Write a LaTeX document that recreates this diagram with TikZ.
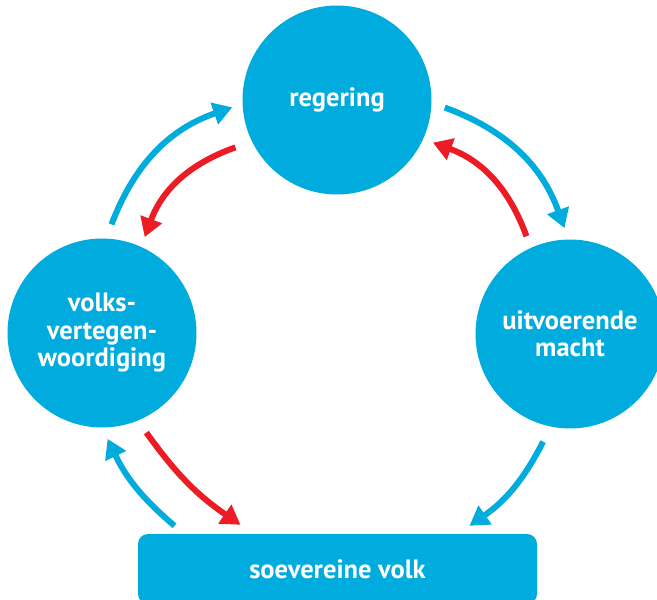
\documentclass[tikz,border=0pt]{standalone}
\usepackage{fontspec}
\setmainfont{PT Sans}
\usepackage{tikz}
\usetikzlibrary{arrows.meta, calc}
\definecolor{volkblue}{HTML}{00ABDE}
\definecolor{volkred}{HTML}{ED1C24}

\begin{document}
\begin{tikzpicture}[
  x=1pt, y=1pt,
  organ/.style={circle, fill=volkblue, minimum size=189pt, inner sep=0pt, outer sep=0pt,
                align=center, text=white, font=\bfseries\fontsize{26.5}{27.5}\selectfont},
  basis/.style={rectangle, rounded corners=10pt, fill=volkblue, minimum width=399pt,
                minimum height=70pt, text=white, font=\bfseries\fontsize{26.5}{27.5}\selectfont},
  arrcw/.style={draw=volkblue, line width=6pt, -{Triangle[length=19pt, width=22pt]}, bend left=25},
  arrccw/.style={draw=volkred, line width=6pt, -{Triangle[length=19pt, width=22pt]}, bend right=25},
]
  \useasboundingbox (0,0) rectangle (657,600);
  \clip (0,0) rectangle (657,600);

  \node[organ] (reg) at (337,500) {regering};
  \node[organ] (volks) at (102,267) {volks-\\vertegen-\\woordiging};
  \node[organ] (uitv) at (570,266) {uitvoerende\\macht};
  \node[basis] (soev) at (337.5,31) {soevereine volk};

  % blauw: met de klok mee, rood: terug
  \draw[arrcw] ($(volks)+(85:109)$) to ($(reg)+(184:105)$);
  \draw[arrccw] ($(reg)+(205:112)$) to ($(volks)+(66:105)$);
  \draw[arrcw] ($(reg)+(-4:108)$) to ($(uitv)+(93:106)$);
  \draw[arrccw] ($(uitv)+(114:107)$) to ($(reg)+(-24:105)$);
  \draw[arrcw, bend left=14] ($(uitv)+(256:111)$) to ($(soev.north)+(132,8)$);
  \draw[arrccw, bend right=10] ($(volks)+(-66:109)$) to ($(soev.north)+(-97,9)$);
  \draw[arrcw, bend left=12] ($(soev.north)+(-163,8)$) to ($(volks)+(273:106)$);
\end{tikzpicture}
\end{document}
